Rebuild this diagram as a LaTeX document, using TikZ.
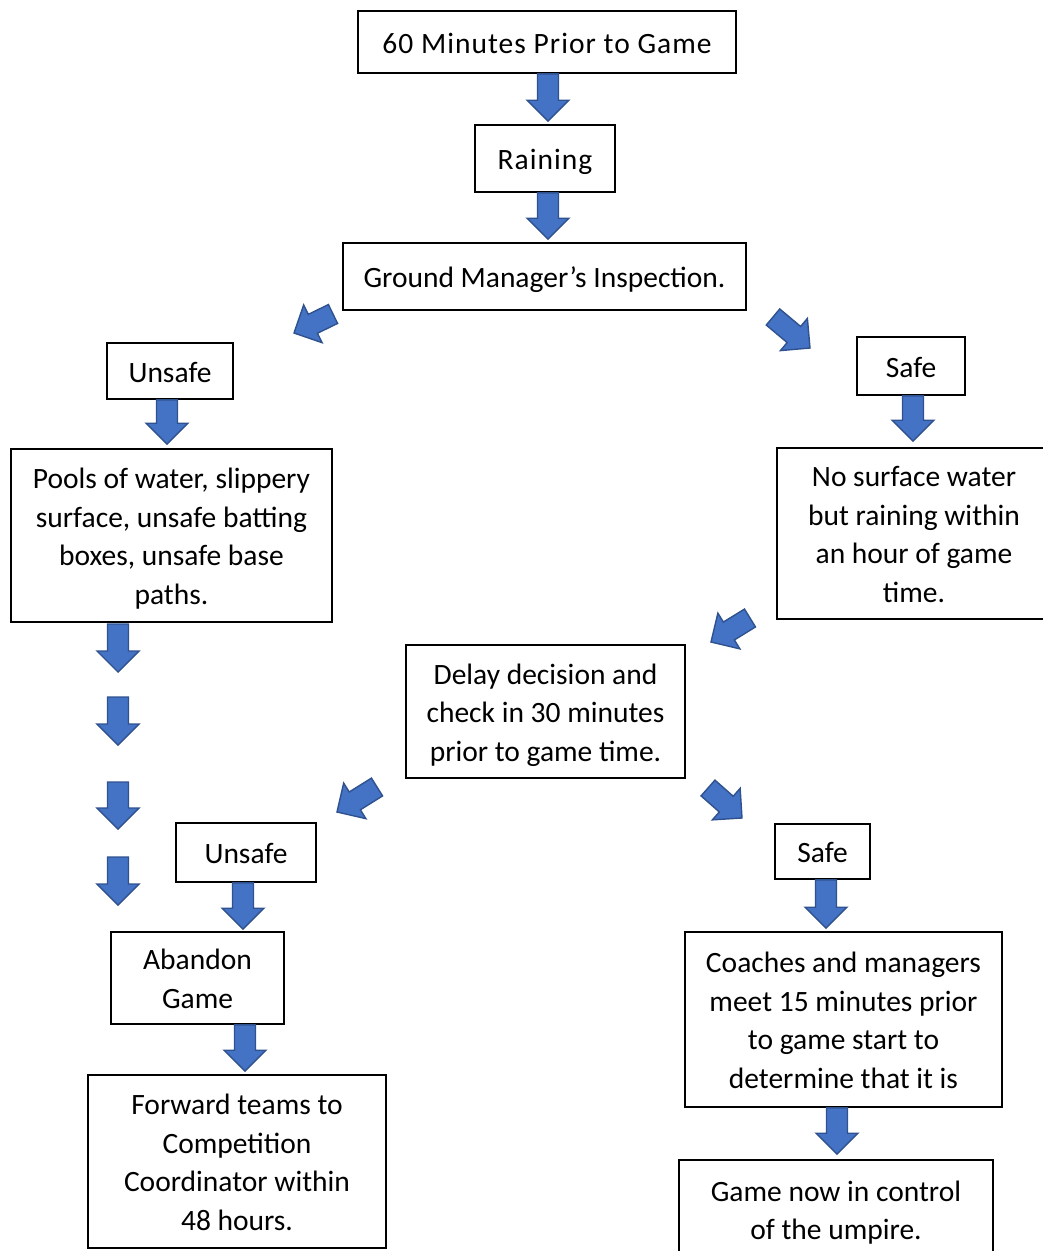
\documentclass[tikz,border=0pt]{standalone}
\usepackage{fontspec}
\setmainfont{Carlito}
\usetikzlibrary{calc}

\definecolor{arrowblue}{HTML}{4472C4}
\definecolor{arrowline}{HTML}{2F528F}

\tikzset{
  box/.style={draw, line width=1.6pt, align=center, inner sep=0pt,
    font=\fontsize{29.5}{38.5}\selectfont},
  wide/.style={font=\fontsize{29.5}{38.5}\selectfont\addfontfeature{LetterSpace=3.5}},
  barrow/.style={fill=arrowblue, draw=arrowline, line width=1.4pt, line join=miter},
}

% fixed line height for first and last text line
\newcommand\ls{\rule[-8pt]{0pt}{38pt}}

% block arrow from #1 to #2
\newcommand\barrow[2]{%
  \coordinate (ba-s) at #1;
  \coordinate (ba-e) at #2;
  \coordinate (ba-h) at ($(ba-e)!21pt!(ba-s)$);
  \draw[barrow] ($(ba-s)!10.5pt!90:(ba-e)$) -- ($(ba-h)!10.5pt!-90:(ba-s)$)
    -- ($(ba-h)!21pt!-90:(ba-s)$) -- (ba-e) -- ($(ba-h)!21pt!90:(ba-s)$)
    -- ($(ba-h)!10.5pt!90:(ba-s)$) -- ($(ba-s)!10.5pt!-90:(ba-e)$) -- cycle;}

\begin{document}
\begin{tikzpicture}[x=1pt, y=-1pt]
\useasboundingbox (0,0) rectangle (1043,1251);

\node[box, wide, minimum width=378pt, minimum height=62pt] (top) at (547,42) {\ls 60 Minutes Prior to Game};
\node[box, wide, minimum width=140pt, minimum height=67pt] (raining) at (545,158.5) {\ls Raining};
\node[box, minimum width=403pt, minimum height=67pt] (inspect) at (544.5,276.5) {\ls Ground Manager’s Inspection.};
\node[box, minimum width=126pt, minimum height=56pt] (unsafeA) at (170,371) {\ls Unsafe};
\node[box, minimum width=108pt, minimum height=58pt] (safeA) at (911,366) {\ls Safe};
\node[box, minimum width=321pt, minimum height=173pt] (pools) at (171.5,535.5)
  {\ls Pools of water, slippery\\surface, unsafe batting\\boxes, unsafe base\\paths.\ls};
\node[box, minimum width=274pt, minimum height=171pt] (nowater) at (914,533.5)
  {\ls No surface water\\but raining within\\an hour of game\\time.\ls};
\node[box, minimum width=279pt, minimum height=133pt] (delay) at (545.5,711.5)
  {\ls Delay decision and\\check in 30 minutes\\prior to game time.\ls};
\node[box, minimum width=140pt, minimum height=59pt] (unsafeB) at (246,852.5) {\ls Unsafe};
\node[box, minimum width=95pt, minimum height=55pt] (safeB) at (822.5,851.5) {\ls Safe};
\node[box, minimum width=173pt, minimum height=92pt] (abandon) at (197.5,978) {\ls Abandon\\Game\ls};
\node[box, minimum width=317pt, minimum height=175pt] (coaches) at (843.5,1019.5)
  {\ls Coaches and managers\\meet 15 minutes prior\\to game start to\\determine that it is\ls};
\node[box, minimum width=298pt, minimum height=173pt] (forward) at (237,1161.5)
  {\ls Forward teams to\\Competition\\Coordinator within\\48 hours.\ls};
\node[box, minimum width=314pt, minimum height=99pt] (umpire) at (836,1209.5)
  {\ls Game now in control\\of the umpire.\ls};

% free ends
\coordinate (inspL) at (333,314);
\coordinate (inspLt) at (294,333);
\coordinate (inspR) at (773,317);
\coordinate (inspRt) at (810,348);
\coordinate (waterL) at (750,618);
\coordinate (waterLt) at (711,642);
\coordinate (delayL) at (377,787);
\coordinate (delayLt) at (337,812);
\coordinate (delayR) at (708,788);
\coordinate (delayRt) at (742,818);

\barrow{($(top.south)+(1,0)$)}{($(raining.north)+(3,-3)$)}
\barrow{($(raining.south)+(3,0)$)}{($(inspect.north)+(3.5,-3)$)}
\barrow{(inspL)}{(inspLt)}
\barrow{(inspR)}{(inspRt)}
\barrow{($(unsafeA.south)+(-3,0)$)}{($(unsafeA.south |- pools.north)+(-3,-4)$)}
\barrow{($(safeA.south)+(2,0)$)}{($(safeA.south |- nowater.north)+(2,-6)$)}
\foreach \ya/\yb in {624/672, 697/745, 782/829, 857/905}
  \barrow{(118,\ya)}{(118,\yb)};
\barrow{(waterL)}{(waterLt)}
\barrow{(delayL)}{(delayLt)}
\barrow{(delayR)}{(delayRt)}
\barrow{($(unsafeB.south)+(-3,0)$)}{($(unsafeB.south |- abandon.north)+(-3,-2)$)}
\barrow{($(safeB.south)+(3.5,0)$)}{($(safeB.south |- coaches.north)+(3.5,-3)$)}
\barrow{($(abandon.south)+(47.5,0)$)}{($(abandon.south |- forward.north)+(47.5,-3)$)}
\barrow{($(coaches.south)+(-6.5,0)$)}{($(coaches.south |- umpire.north)+(-6.5,-5)$)}
\end{tikzpicture}
\end{document}
